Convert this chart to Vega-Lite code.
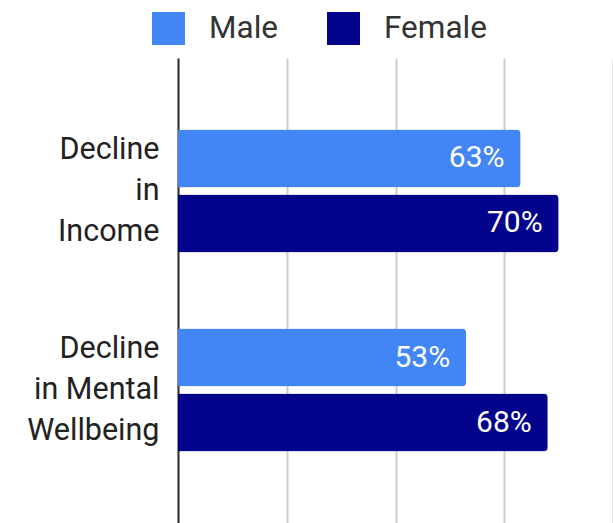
{
  "$schema": "https://vega.github.io/schema/vega-lite/v6.json",
  "autosize": "none",
  "padding": {"left": 178, "top": 58, "right": 0, "bottom": 0},
  "width": 435,
  "height": 465,
  "background": "white",
  "config": {"view": {"stroke": null}, "font": "Roboto"},
  "data": {
    "values": [
      {"category": "Decline in Income", "gender": "Male", "value": 0.63},
      {"category": "Decline in Income", "gender": "Female", "value": 0.70},
      {"category": "Decline in Mental Wellbeing", "gender": "Male", "value": 0.53},
      {"category": "Decline in Mental Wellbeing", "gender": "Female", "value": 0.68}
    ]
  },
  "encoding": {
    "y": {
      "field": "category",
      "type": "nominal",
      "sort": ["Decline in Income", "Decline in Mental Wellbeing"],
      "scale": {"paddingInner": 0.382, "paddingOuter": 0.359},
      "axis": {
        "title": null,
        "ticks": false,
        "domain": true,
        "domainColor": "#333333",
        "domainWidth": 2,
        "labelFont": "Roboto",
        "labelFontSize": 30.5,
        "labelColor": "#222222",
        "labelLineHeight": 41,
        "labelOffset": -41,
        "labelPadding": 19,
        "labelExpr": "datum.value == 'Decline in Income' ? ['Decline', 'in', 'Income'] : ['Decline', 'in Mental', 'Wellbeing']"
      }
    },
    "yOffset": {
      "field": "gender",
      "type": "nominal",
      "sort": ["Male", "Female"],
      "scale": {"paddingInner": 0.108}
    },
    "x": {
      "field": "value",
      "type": "quantitative",
      "scale": {"domain": [0, 0.8], "nice": false},
      "axis": {
        "title": null,
        "values": [0, 0.2, 0.4, 0.6, 0.8],
        "labels": false,
        "ticks": false,
        "domain": false,
        "grid": true,
        "gridColor": "#cccccc",
        "gridWidth": 2
      }
    }
  },
  "layer": [
    {
      "mark": {"type": "bar", "cornerRadiusEnd": 4},
      "encoding": {
        "color": {
          "field": "gender",
          "type": "nominal",
          "sort": ["Male", "Female"],
          "scale": {"domain": ["Male", "Female"], "range": ["#4285f4", "#03038c"]},
          "legend": {
            "title": null,
            "orient": "none",
            "direction": "horizontal",
            "legendX": -38,
            "legendY": -58,
            "symbolType": "square",
            "symbolSize": 1089,
            "symbolStrokeWidth": 0,
            "labelFont": "Roboto",
            "labelFontSize": 31.5,
            "labelColor": "#333333",
            "labelOffset": 24,
            "columnPadding": 49,
            "padding": 12
          }
        }
      }
    },
    {
      "mark": {
        "type": "text",
        "align": "right",
        "baseline": "middle",
        "dx": -16,
        "color": "white",
        "font": "Roboto",
        "fontSize": 30
      },
      "encoding": {
        "text": {"field": "value", "type": "quantitative", "format": ".0%"}
      }
    }
  ]
}
